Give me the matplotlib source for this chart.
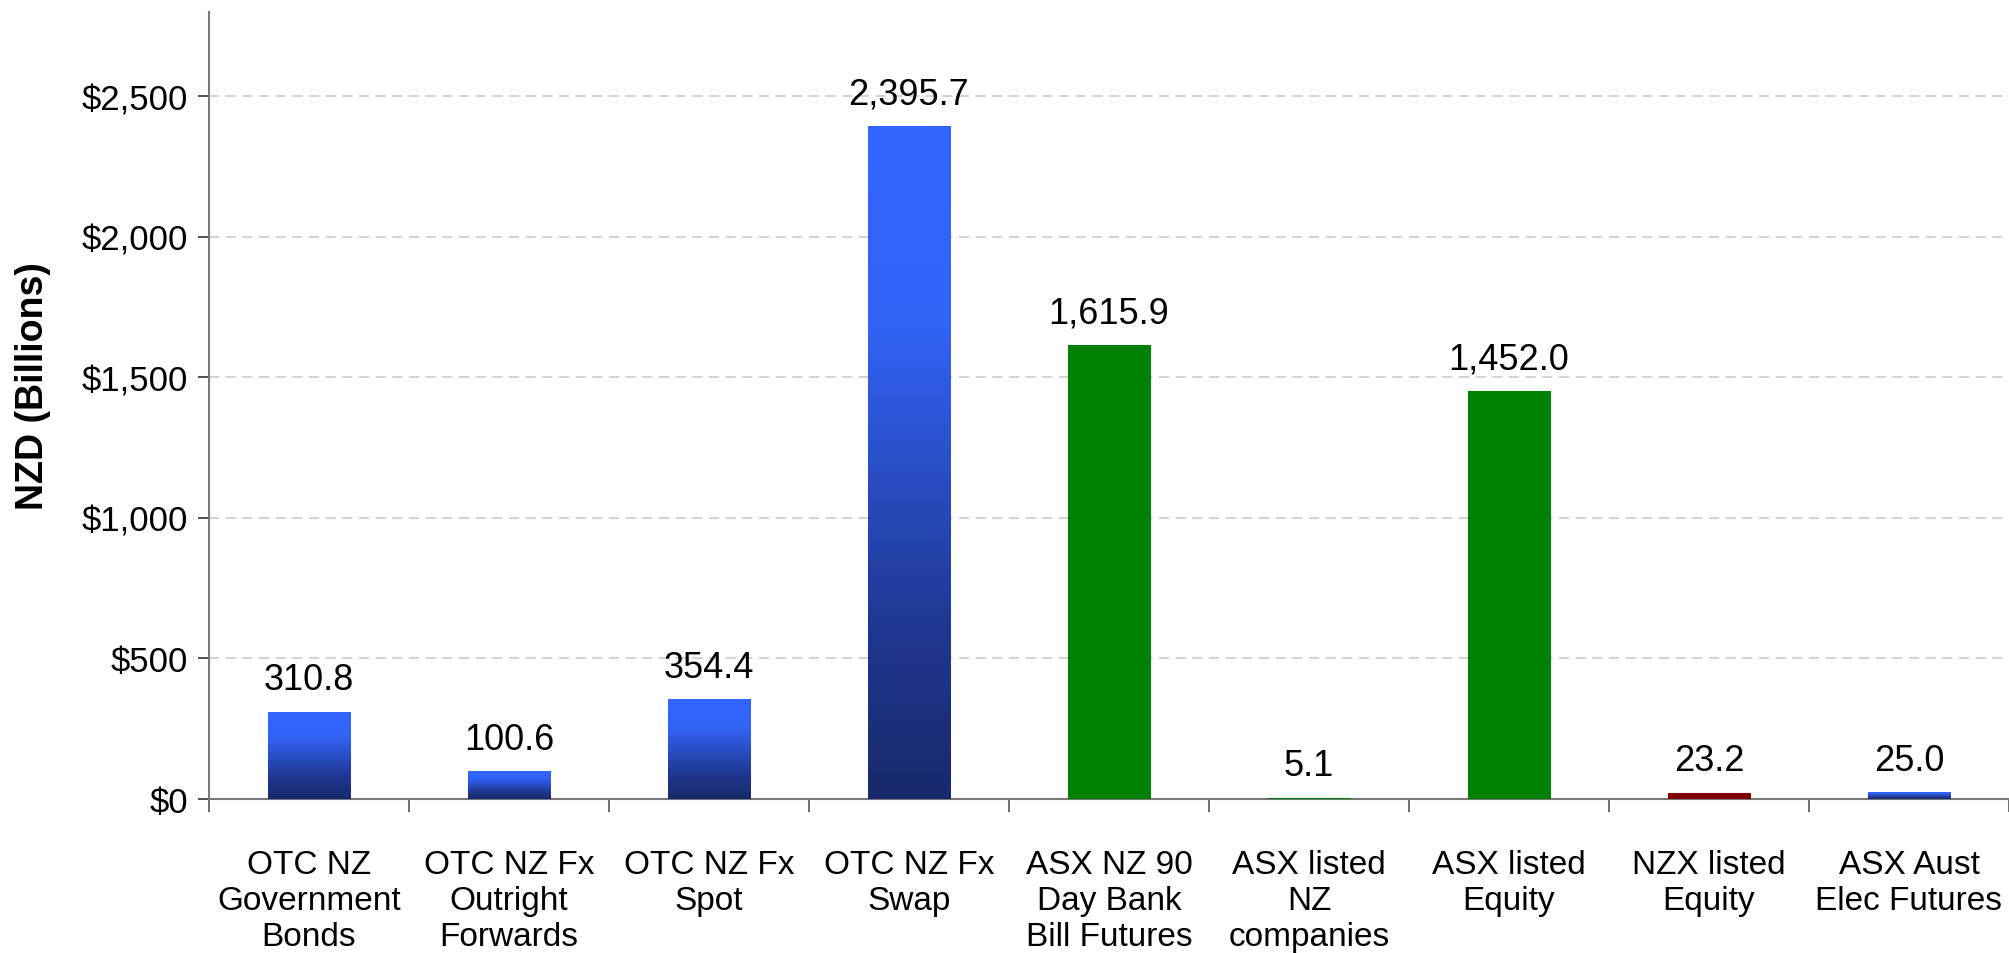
import numpy as np
import matplotlib
matplotlib.use('Agg')
import matplotlib.pyplot as plt
from matplotlib.colors import LinearSegmentedColormap
from matplotlib.ticker import FuncFormatter, MultipleLocator

# data
categories = ['OTC NZ\nGovernment\nBonds', 'OTC NZ Fx\nOutright\nForwards', 'OTC NZ Fx\nSpot',
              'OTC NZ Fx\nSwap', 'ASX NZ 90\nDay Bank\nBill Futures', 'ASX listed\nNZ\ncompanies',
              'ASX listed\nEquity', 'NZX listed\nEquity', 'ASX Aust\nElec Futures']
values = [310.8, 100.6, 354.4, 2395.7, 1615.9, 5.1, 1452.0, 23.2, 25.0]
fills  = ['grad', 'grad', 'grad', 'grad', '#008000', '#008000', '#008000', '#800000', 'grad']

plt.rcParams['font.family'] = ['Liberation Sans', 'DejaVu Sans']

fig = plt.figure(figsize=(20.09, 9.54), dpi=100)
ax = fig.add_axes([0.104, 0.1614, 0.896, 0.825])

blues = LinearSegmentedColormap.from_list('blues', [(0.0, '#18296b'), (0.25, '#1f3790'), (0.7, '#3263f5'), (1.0, '#3366ff')])
gradient = np.linspace(0, 1, 256).reshape(-1, 1)

x = np.arange(len(values))
bars = ax.bar(x, values, width=0.41, zorder=3)
for bar, fill in zip(bars, fills):
    if fill == 'grad':
        bar.set_facecolor('none')
        x0, y0 = bar.get_x(), bar.get_y()
        im = ax.imshow(gradient, cmap=blues, origin='lower', aspect='auto', zorder=3,
                       extent=[x0, x0 + bar.get_width(), y0, y0 + bar.get_height()])
        im.set_clip_path(bar)
    else:
        bar.set_facecolor(fill)
        bar.set_edgecolor(fill)
        bar.set_linewidth(0.8)

for xi, v in zip(x, values):
    ax.annotate(f'{v:,.1f}', (xi, v), xytext=(0, 16), textcoords='offset points',
                ha='center', va='baseline', fontsize=26)

ax.set_xlim(-0.5, len(values) - 0.5)
ax.set_ylim(0, 2800)
ax.yaxis.set_major_locator(MultipleLocator(500))
ax.yaxis.set_major_formatter(FuncFormatter(lambda v, p: f'${v:,.0f}'))
ax.grid(axis='y', color='#cccccc', linestyle=(0, (6, 4)), linewidth=1.2, zorder=0)

ax.set_xticks(x)
ax.set_xticklabels(categories, fontsize=24, linespacing=1.2)
ax.tick_params(axis='x', length=0, pad=36)
ax.set_xticks(np.arange(len(values) + 1) - 0.5, minor=True)
ax.tick_params(axis='x', which='minor', length=9, width=1.2, color='#555555')
ax.tick_params(axis='y', labelsize=25, length=8, width=1.2, pad=7, color='#333333')

for s in ['top', 'right']:
    ax.spines[s].set_visible(False)
for s in ['left', 'bottom']:
    ax.spines[s].set_color('#777777')
    ax.spines[s].set_linewidth(1.5)

ax.set_ylabel('NZD (Billions)', fontsize=27, fontweight='bold')
ax.yaxis.set_label_coords(-0.088, 0.526)

fig.savefig('out.png', dpi=100)
